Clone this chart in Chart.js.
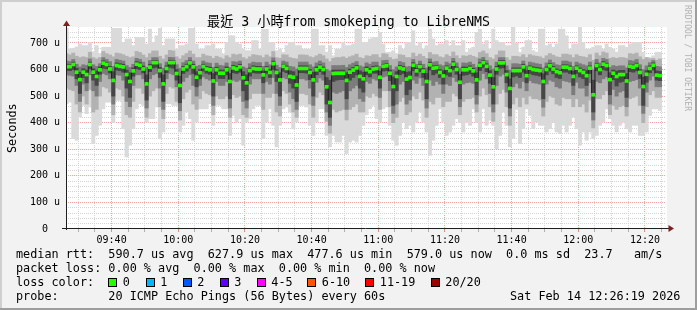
<!DOCTYPE html>
<html><head><meta charset="utf-8">
<script src="https://cdn.jsdelivr.net/npm/chart.js@4.4.1/dist/chart.umd.min.js"></script>
<style>
html,body{margin:0;padding:0;background:#f2f2f2;}
#wrap{position:relative;width:697px;height:310px;overflow:hidden;background:#f2f2f2;}
#c{position:absolute;left:0;top:0;}
.sh{position:absolute;}
.t{position:absolute;font-family:"DejaVu Sans Mono",monospace;white-space:pre;color:#000;font-size:11.8px;line-height:14px;}
.box{position:absolute;width:9px;height:9px;box-sizing:border-box;border:1px solid #000;top:278px;}
</style></head><body>
<div id="wrap">
<canvas id="c" width="697" height="310"></canvas>
<div class="sh" style="left:0;top:0;width:697px;height:2px;background:#cfcfcf"></div>
<div class="sh" style="left:0;top:0;width:2px;height:310px;background:#cfcfcf"></div>
<div class="sh" style="left:0;top:308px;width:697px;height:2px;background:#9e9e9e"></div>
<div class="sh" style="left:695px;top:0;width:2px;height:310px;background:#9e9e9e"></div>
<div class="t" style="left:0;top:13.8px;width:697px;text-align:center;font-family:'DejaVu Sans Mono','Noto Sans CJK TC',monospace;font-size:13.2px;line-height:16px;">最近 3 小時from smokeping to LibreNMS</div>
<div class="t" style="left:4.8px;top:152.5px;transform:rotate(-90deg);transform-origin:0 0;">Seconds</div>
<div class="t" style="left:691px;top:4.5px;transform:rotate(90deg);transform-origin:0 0;font-size:8px;line-height:8px;color:#b0b0b0;">RRDTOOL / TOBI OETIKER</div>
<div class="t" style="left:16px;top:247px;">median rtt:  590.7 us avg  627.9 us max  477.6 us min  579.0 us now  0.0 ms sd  23.7   am/s</div>
<div class="t" style="left:16px;top:261px;">packet loss: 0.00 % avg  0.00 % max  0.00 % min  0.00 % now</div>
<div class="t" style="left:16px;top:275px;">loss color:</div>
<div id="lossrow"></div>
<div class="t" style="left:16px;top:288.5px;">probe:       20 ICMP Echo Pings (56 Bytes) every 60s</div>
<div class="t" style="left:510px;top:288.5px;">Sat Feb 14 12:26:19 2026</div>
</div>
<script>
// ---- data, one value per 60 s step ----
const startClock = '09:26:19';          // left edge of the graph
const firstStepEndSec = 41;              // first RRD step ends at 09:27:00
const median = [611,611,619,590,562,590,581,619,590,574,
 599,624,619,602,559,615,612,610,581,555,
 595,620,616,602,546,609,626,626,596,546,
 604,626,626,585,540,602,611,625,610,571,
 588,611,602,599,557,599,586,586,599,555,
 606,602,610,569,550,596,604,602,602,580,
 602,589,622,589,561,612,604,574,571,542,
 604,604,604,589,561,599,609,600,535,476,
 585,586,586,586,559,590,598,606,574,565,
 599,592,602,604,571,612,614,586,536,574,
 606,602,564,570,616,595,611,594,555,618,
 605,607,589,576,605,596,620,600,552,599,
 599,604,595,561,616,626,612,579,535,602,
 625,625,581,529,596,596,596,610,577,605,
 600,598,596,555,600,614,602,592,588,609,
 609,604,574,605,596,589,577,605,505,615,
 600,620,615,562,586,574,581,581,557,612,
 609,615,589,536,582,604,616,579,577];
const band1Hi = [755,677,680,685,696,690,690,702,667,690,
 660,684,684,684,755,755,755,702,715,715,
 690,721,721,721,696,752,702,727,755,690,
 715,715,715,677,690,690,696,755,755,696,
 677,677,690,690,696,677,677,659,702,727,
 727,702,696,677,671,671,709,709,677,752,
 752,702,702,671,677,665,690,702,702,690,
 690,677,677,677,752,752,690,690,665,690,
 652,677,677,702,690,690,696,752,752,702,
 702,715,721,721,740,696,665,665,671,659,
 690,677,702,702,746,690,702,677,690,752,
 715,690,696,696,709,690,709,690,690,709,
 665,677,684,740,752,696,709,677,752,709,
 702,702,690,690,759,700,665,684,709,709,
 671,665,752,752,690,696,684,696,752,752,
 727,677,696,696,759,702,677,677,684,690,
 690,677,696,684,677,665,690,690,684,696,
 702,702,702,665,646,646,652,665,665];
const band1Lo = [471,477,340,334,421,465,434,459,321,352,
 390,452,477,477,400,484,484,377,271,315,
 377,452,471,465,402,415,415,459,340,365,
 471,471,465,465,365,390,440,415,334,402,
 452,452,452,471,390,465,465,452,452,352,
 427,402,415,315,402,415,452,465,465,340,
 402,452,390,309,390,452,459,440,377,402,
 465,465,459,390,352,402,452,452,352,309,
 352,327,327,352,284,327,334,327,352,390,
 430,452,465,415,402,452,459,390,334,315,
 352,402,377,390,365,402,440,402,365,277,
 334,390,452,402,352,365,390,415,400,365,
 402,390,452,400,365,452,390,409,390,302,
 352,440,390,309,340,450,321,377,452,427,
 377,402,390,390,365,377,402,365,359,390,
 365,390,421,377,315,365,334,365,340,352,
 390,402,452,415,390,365,390,402,377,365,
 390,390,352,352,365,427,452,452,446];
const band2Hi = [660,655,662,650,645,648,645,665,645,640,
 645,668,660,655,648,662,660,656,650,645,
 648,668,664,655,645,660,670,670,650,640,
 655,672,670,648,640,652,660,670,658,645,
 645,658,652,650,642,650,645,640,652,645,
 658,655,658,645,640,648,656,654,652,645,
 655,648,668,645,642,656,655,645,642,640,
 655,655,654,648,645,652,658,652,640,630,
 642,645,645,648,642,648,652,658,645,642,
 652,650,656,656,645,660,658,645,638,640,
 656,654,645,645,662,650,658,650,642,664,
 656,656,648,645,656,650,666,652,642,652,
 650,654,650,645,664,670,660,645,640,655,
 670,670,645,636,650,650,648,656,645,656,
 652,650,648,642,652,660,654,648,646,658,
 658,655,645,656,650,648,645,656,635,662,
 652,666,662,642,645,642,645,645,642,660,
 658,662,648,638,645,640,642,635,640];
const band2Lo = [530,525,520,470,440,500,470,525,440,450,
 500,535,530,515,430,530,525,500,430,420,
 480,530,530,510,420,500,520,530,460,415,
 510,535,530,480,410,490,515,525,470,450,
 490,520,510,505,430,500,490,490,500,420,
 505,495,500,430,420,490,510,510,510,450,
 495,495,510,440,425,520,510,470,440,420,
 510,510,505,470,420,495,515,505,405,360,
 450,440,445,450,410,450,460,470,440,440,
 500,495,510,500,450,520,520,460,400,420,
 480,495,430,440,500,490,515,485,420,480,
 470,495,495,460,480,480,510,500,430,480,
 490,490,495,440,500,530,505,460,405,470,
 510,525,460,390,470,495,460,495,470,500,
 490,490,485,425,480,500,495,470,465,495,
 490,490,460,490,460,470,440,485,380,490,
 490,505,520,430,465,450,460,465,425,490,
 495,500,465,400,460,505,520,495,495];
const band3Hi = [632,630,638,620,610,618,615,640,618,612,
 622,645,638,630,612,638,635,632,615,608,
 620,642,638,628,608,634,645,645,622,605,
 628,646,645,618,605,626,634,645,632,612,
 616,632,626,624,608,624,616,614,625,608,
 630,628,632,610,605,622,628,626,626,612,
 628,618,644,616,608,632,628,612,610,602,
 628,628,628,618,610,625,632,625,600,595,
 615,615,615,616,608,618,624,630,614,610,
 625,620,628,628,612,634,635,615,600,610,
 630,626,610,612,638,620,632,620,606,640,
 628,630,618,614,628,622,642,625,606,625,
 624,628,620,608,640,646,634,614,602,628,
 645,645,614,598,622,622,620,632,614,628,
 625,622,620,606,625,636,626,618,616,632,
 632,628,612,628,622,618,614,628,598,638,
 625,642,638,608,615,612,614,614,606,634,
 632,638,618,600,614,626,634,612,610];
const band3Lo = [580,578,575,540,480,545,520,580,520,500,
 555,585,580,565,470,580,578,560,480,460,
 540,580,580,565,455,565,580,585,530,450,
 565,585,580,535,445,555,570,580,540,500,
 540,572,565,560,465,555,540,540,555,455,
 560,555,560,480,455,545,565,565,565,510,
 555,545,570,510,465,570,565,515,490,450,
 565,565,560,530,465,552,568,560,440,390,
 515,510,515,520,450,520,530,540,490,480,
 555,548,565,560,495,572,575,520,435,470,
 545,555,470,485,560,548,568,540,455,560,
 540,555,545,510,545,540,570,555,460,545,
 550,552,548,470,560,585,565,510,440,540,
 575,582,515,425,535,548,530,555,520,558,
 550,548,545,458,545,560,555,535,530,558,
 555,552,505,552,530,530,500,550,410,555,
 550,565,572,470,525,500,515,520,460,555,
 558,562,530,435,515,560,575,535,535];
const band4Hi = [620,619,628,605,590,603,598,628,603,595,
 610,633,628,612,592,625,622,620,598,588,
 606,630,626,613,580,620,634,634,608,580,
 614,635,634,600,575,612,620,633,620,592,
 600,620,612,609,585,609,598,598,610,585,
 616,612,620,592,580,606,614,612,612,595,
 612,600,632,600,588,620,614,595,592,575,
 614,614,614,600,590,610,618,610,570,560,
 598,598,598,598,588,602,608,616,595,590,
 610,604,612,614,594,620,622,598,572,592,
 616,612,590,592,626,605,620,604,585,628,
 614,616,600,596,614,606,630,610,582,610,
 609,614,605,588,626,635,622,596,570,612,
 634,634,596,565,606,606,606,620,596,614,
 610,608,606,584,610,622,612,602,598,618,
 618,614,594,614,606,600,596,614,560,624,
 610,630,624,588,598,594,597,597,585,620,
 618,624,600,572,596,614,625,595,593];
const band4Lo = [597,596,600,565,510,570,550,602,560,540,
 582,605,603,587,500,598,596,590,530,495,
 575,603,600,587,485,592,606,608,570,480,
 588,608,605,560,475,585,594,605,585,535,
 565,594,586,582,500,580,566,566,580,490,
 588,585,590,520,485,575,588,586,586,550,
 585,570,600,555,500,593,588,548,530,480,
 588,588,586,562,500,580,592,582,470,420,
 555,560,562,562,490,560,570,580,530,515,
 580,572,586,586,530,594,596,558,465,520,
 580,585,505,525,595,575,592,570,490,598,
 580,586,570,545,580,574,600,582,490,578,
 580,584,575,505,596,608,592,548,470,582,
 605,606,550,455,572,576,570,590,550,585,
 580,578,575,490,580,594,584,570,566,590,
 590,585,540,585,572,566,540,585,440,595,
 580,600,596,505,562,538,552,555,495,592,
 590,595,566,465,552,588,598,560,558];
const xTickLabels = ['09:40','10:00','10:20','10:40','11:00','11:20','11:40','12:00','12:20'];
const yTickValues = [0,100,200,300,400,500,600,700];
const yTickLabels = ['0  ','100 u','200 u','300 u','400 u','500 u','600 u','700 u'];
const lossLabels = ['0','1','2','3','4-5','6-10','11-19','20/20'];
const lossColors = ['#26ff00','#00b8ff','#0059ff','#5e00ff','#ff00ff','#ff5500','#ff0000','#a10000'];

// ---- loss colour legend row ----
const boxX = [108,145.5,182.5,219.5,256.5,307,365,430.5];
const lr = document.getElementById('lossrow');
lossLabels.forEach((lab,i)=>{
  const b=document.createElement('div'); b.className='box';
  b.style.left=boxX[i]+'px'; b.style.background=lossColors[i]; lr.appendChild(b);
  const t=document.createElement('div'); t.className='t';
  t.style.left=(boxX[i]+14.8)+'px'; t.style.top='275px'; t.textContent=lab; lr.appendChild(t);
});

// ---- time helpers ----
function clockMin(s){const p=s.split(':').map(Number);return p[0]*60+p[1]+(p[2]||0)/60;}
const t0 = clockMin(startClock);
const rangeMin = 180;
const xs = median.map((_,j)=> firstStepEndSec/60 + j - 0.5);   // centre of each step
const majorX = xTickLabels.map(l=>clockMin(l)-t0);
const xTicks = [];
for (let t = clockMin('09:30')-t0; t < rangeMin; t += 5) xTicks.push(t);
const isMajorX = v => majorX.some(m=>Math.abs(m-v)<1e-6);
const labelX = v => { const i = majorX.findIndex(m=>Math.abs(m-v)<1e-6); return i>=0 ? xTickLabels[i] : ''; };
const yTicks = []; for (let v=0; v<760; v+=20) yTicks.push(v);

const MAJ = '#f0a6a6', MIN = '#d4d4d4';
const band = (lo,hi) => lo.map((l,j)=>({x:xs[j], y:[l,hi[j]]}));
const barOpts = {type:'bar', grouped:false, barPercentage:1, categoryPercentage:1, borderWidth:0};

const datasets = [
  Object.assign({data: median.map((m,j)=>({x:xs[j], y:[m-5.6, m+5.6]})), backgroundColor:'#26ff00', order:0}, barOpts),
  {type:'line', data: median.map((m,j)=>({x:xs[j], y:m})), borderColor:'#202020', borderWidth:1, stepped:'middle', pointRadius:0, order:1},
  Object.assign({data: band(band4Lo,band4Hi), backgroundColor:'#464646', order:2}, barOpts),
  Object.assign({data: band(band3Lo,band3Hi), backgroundColor:'#7c7c7c', order:3}, barOpts),
  Object.assign({data: band(band2Lo,band2Hi), backgroundColor:'#b2b2b2', order:4}, barOpts),
  Object.assign({data: band(band1Lo,band1Hi), backgroundColor:'#dadada', order:5}, barOpts)
];

const axesPlugin = {
  id:'rrdaxes',
  beforeDraw(chart){
    const {ctx, chartArea:a} = chart;
    ctx.save(); ctx.fillStyle='#ffffff';
    ctx.fillRect(a.left, a.top, a.right-a.left+1, a.bottom-a.top); ctx.restore();
  },
  afterDraw(chart){
    const {ctx, chartArea:a} = chart;
    ctx.save();
    ctx.strokeStyle='#1f1f1f'; ctx.lineWidth=1;
    ctx.beginPath();
    ctx.moveTo(a.left-4, a.bottom-0.5); ctx.lineTo(a.right+3, a.bottom-0.5);
    ctx.moveTo(a.left+0.5, a.bottom+1); ctx.lineTo(a.left+0.5, a.top-2);
    ctx.stroke();
    ctx.fillStyle='#801f1f';
    ctx.beginPath();
    ctx.moveTo(a.right+2.5, a.bottom-4); ctx.lineTo(a.right+2.5, a.bottom+3); ctx.lineTo(a.right+8, a.bottom-0.5); ctx.closePath(); ctx.fill();
    ctx.beginPath();
    ctx.moveTo(a.left-3, a.top-1); ctx.lineTo(a.left+4, a.top-1); ctx.lineTo(a.left+0.5, a.top-6.5); ctx.closePath(); ctx.fill();
    ctx.restore();
  }
};

const tickFont = {family:'DejaVu Sans Mono', size:10};
new Chart(document.getElementById('c'), {
  type:'bar',
  data:{datasets},
  options:{
    responsive:false, animation:false, events:[], devicePixelRatio:1,
    layout:{padding:{left:0, top:27, right:31, bottom:0}},
    plugins:{legend:{display:false}, tooltip:{enabled:false}, title:{display:false}},
    scales:{
      x:{type:'linear', min:0, max:rangeMin, offset:false, z:1,
        afterBuildTicks: s => { s.ticks = xTicks.map(v=>({value:v})); },
        afterFit: s => { s.height = 81; },
        grid:{offset:false, lineWidth:1, drawTicks:true, tickLength:3,
          color: c => c.tick ? (isMajorX(c.tick.value) ? MAJ : MIN) : MIN,
          tickColor: c => c.tick ? (isMajorX(c.tick.value) ? '#e08a8a' : '#b0b0b0') : MIN},
        border:{display:false, dash:[1,1]},
        ticks:{autoSkip:false, maxRotation:0, minRotation:0, padding:2, color:'#000', font:tickFont,
          callback: v => labelX(v)}
      },
      y:{type:'linear', min:0, max:760, z:1,
        afterBuildTicks: s => { s.ticks = yTicks.map(v=>({value:v})); },
        afterFit: s => { s.width = 66; },
        grid:{lineWidth:1, drawTicks:false,
          color: c => !c.tick || c.tick.value===0 ? 'rgba(0,0,0,0)' : (c.tick.value % 100 === 0 ? MAJ : MIN)},
        border:{display:false, dash:[1,1]},
        ticks:{autoSkip:false, padding:6, color:'#000', font:tickFont,
          callback: v => { const i = yTickValues.indexOf(v); return i>=0 ? yTickLabels[i] : ''; }}
      }
    }
  },
  plugins:[axesPlugin]
});
</script>
</body></html>
